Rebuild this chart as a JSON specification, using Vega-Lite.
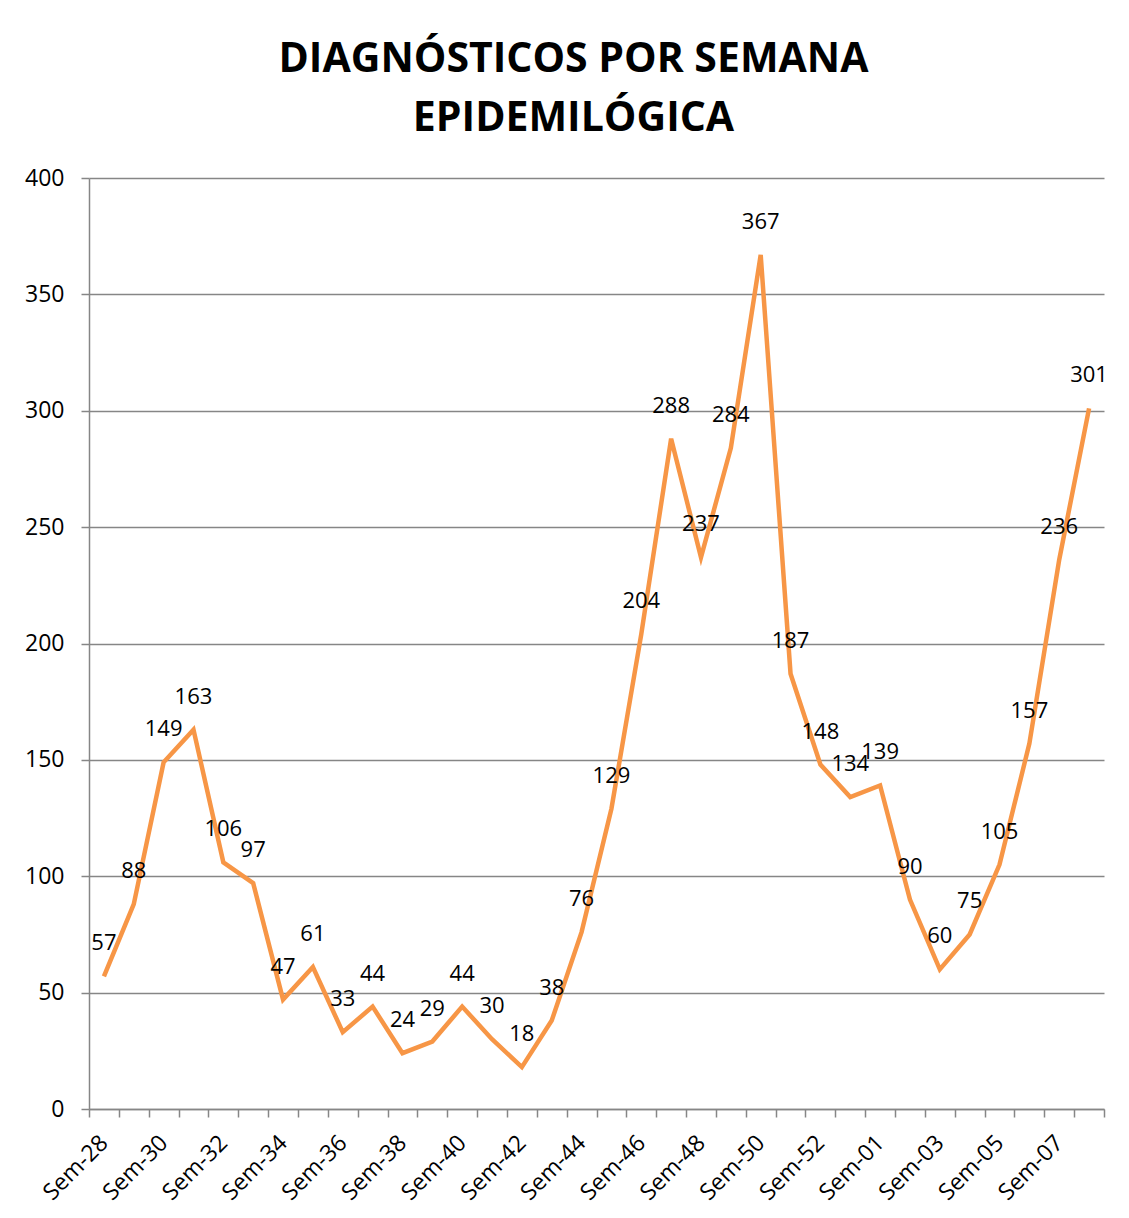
{
  "$schema": "https://vega.github.io/schema/vega-lite/v6.json",
  "width": 1015,
  "height": 931,
  "autosize": {"type": "none"},
  "padding": {"left": 89, "top": 178, "right": 25, "bottom": 109},
  "background": "white",
  "title": {
    "text": ["DIAGNÓSTICOS POR SEMANA", "EPIDEMILÓGICA"],
    "font": "Open Sans",
    "fontSize": 41,
    "fontWeight": "bold",
    "color": "black",
    "lineHeight": 59,
    "anchor": "middle",
    "dx": -23,
    "offset": 27
  },
  "data": {
    "values": [
      {"semana": "Sem-28", "casos": 57},
      {"semana": "Sem-29", "casos": 88},
      {"semana": "Sem-30", "casos": 149},
      {"semana": "Sem-31", "casos": 163},
      {"semana": "Sem-32", "casos": 106},
      {"semana": "Sem-33", "casos": 97},
      {"semana": "Sem-34", "casos": 47},
      {"semana": "Sem-35", "casos": 61},
      {"semana": "Sem-36", "casos": 33},
      {"semana": "Sem-37", "casos": 44},
      {"semana": "Sem-38", "casos": 24},
      {"semana": "Sem-39", "casos": 29},
      {"semana": "Sem-40", "casos": 44},
      {"semana": "Sem-41", "casos": 30},
      {"semana": "Sem-42", "casos": 18},
      {"semana": "Sem-43", "casos": 38},
      {"semana": "Sem-44", "casos": 76},
      {"semana": "Sem-45", "casos": 129},
      {"semana": "Sem-46", "casos": 204},
      {"semana": "Sem-47", "casos": 288},
      {"semana": "Sem-48", "casos": 237},
      {"semana": "Sem-49", "casos": 284},
      {"semana": "Sem-50", "casos": 367},
      {"semana": "Sem-51", "casos": 187},
      {"semana": "Sem-52", "casos": 148},
      {"semana": "Sem-53", "casos": 134},
      {"semana": "Sem-01", "casos": 139},
      {"semana": "Sem-02", "casos": 90},
      {"semana": "Sem-03", "casos": 60},
      {"semana": "Sem-04", "casos": 75},
      {"semana": "Sem-05", "casos": 105},
      {"semana": "Sem-06", "casos": 157},
      {"semana": "Sem-07", "casos": 236},
      {"semana": "Sem-08", "casos": 301}
    ]
  },
  "encoding": {
    "x": {
      "field": "semana",
      "type": "ordinal",
      "sort": null,
      "scale": {"type": "band", "paddingInner": 0, "paddingOuter": 0},
      "axis": {
        "title": null,
        "tickBand": "extent",
        "tickSize": 8,
        "tickColor": "#868686",
        "tickWidth": 1.5,
        "domainColor": "#868686",
        "domainWidth": 1.5,
        "grid": false,
        "labelAngle": -45,
        "labelAlign": "right",
        "labelBaseline": "middle",
        "labelPadding": 22,
        "labelFont": "Open Sans",
        "labelFontSize": 23,
        "labelColor": "black",
        "labelOverlap": false,
        "labelExpr": "indexof(['Sem-28','Sem-30','Sem-32','Sem-34','Sem-36','Sem-38','Sem-40','Sem-42','Sem-44','Sem-46','Sem-48','Sem-50','Sem-52','Sem-01','Sem-03','Sem-05','Sem-07'], datum.label) >= 0 ? datum.label : ''"
      }
    },
    "y": {
      "field": "casos",
      "type": "quantitative",
      "scale": {"domain": [0, 400], "nice": false},
      "axis": {
        "title": null,
        "values": [0, 50, 100, 150, 200, 250, 300, 350, 400],
        "tickSize": 8,
        "tickColor": "#868686",
        "tickWidth": 1.5,
        "domainColor": "#868686",
        "domainWidth": 1.5,
        "gridColor": "#868686",
        "gridWidth": 1.5,
        "labelPadding": 17,
        "labelFont": "Open Sans",
        "labelFontSize": 23,
        "labelColor": "black"
      }
    }
  },
  "layer": [
    {"mark": {"type": "line", "color": "#F79646", "strokeWidth": 4.5}},
    {
      "mark": {"type": "text", "dy": -33, "font": "Open Sans", "fontSize": 22, "color": "black", "baseline": "middle"},
      "encoding": {"text": {"field": "casos", "type": "quantitative"}}
    }
  ],
  "config": {"view": {"stroke": null}}
}
